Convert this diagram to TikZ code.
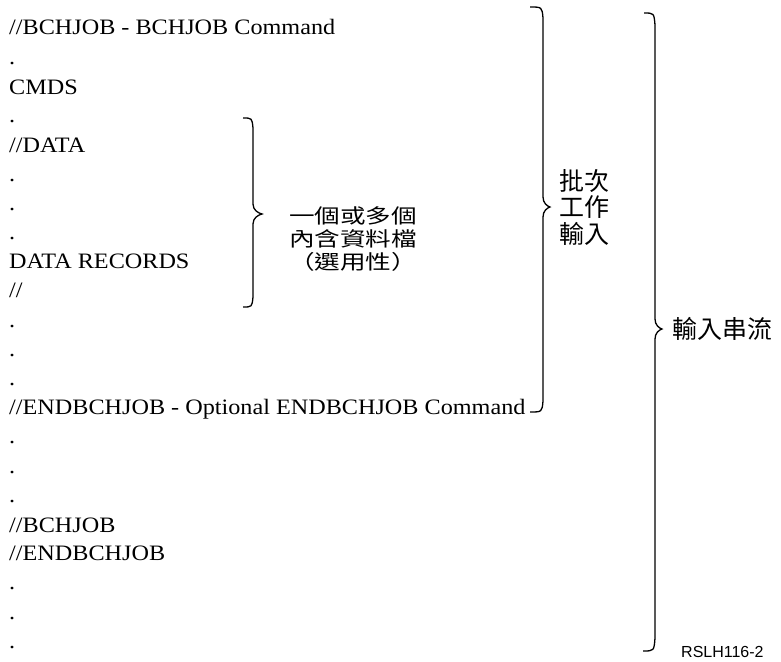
\documentclass[tikz,border=0pt]{standalone}
\usepackage{fontspec}
\usepackage{tikz}
\setmainfont{Liberation Serif}[FakeStretch=1.1]
\newfontfamily\cjkwide{Noto Sans CJK TC}[FakeStretch=1.28]
\newfontfamily\cjk{Noto Sans CJK TC}
\newfontfamily\tagfont{Liberation Sans}
\usetikzlibrary{positioning}

\tikzset{
  listline/.style={anchor=base west, inner sep=0pt, font=\fontsize{22}{24}\selectfont},
  bracket/.style={line width=1.3pt},
  cjklabel/.style={inner sep=0pt, align=center, font=\cjk\fontsize{25}{26.5}\selectfont},
}

\begin{document}
\begin{tikzpicture}[x=1pt, y=-1pt]
        \useasboundingbox (0,0) rectangle (781,661);

        % job stream lines
        \node[listline] (l0)  at (9,35)    {//BCHJOB - BCHJOB Command};
        \node[listline] (l2)  at (9,94)    {CMDS};
        \node[listline] (l4)  at (9,152.5) {//DATA};
        \node[listline] (l8)  at (9,268.6) {DATA RECORDS};
        \node[listline] (l9)  at (9,297.8) {//};
        \node[listline] (l13) at (9,414.6) {//ENDBCHJOB - Optional ENDBCHJOB Command};
        \node[listline] (l17) at (9,532.5) {//BCHJOB};
        \node[listline] (l18) at (9,560.6) {//ENDBCHJOB};
        \foreach \i in {1,3,5,6,7,10,11,12,14,15,16,19,20,21}
          \node[listline] (l\i) at (9,35+29.2*\i) {.};

        % inline data brace
        \coordinate (datatip) at (262,214);
        \draw[bracket] (243,118) .. controls (252,118) .. (253,128) -- (253,204)
          .. controls (253,210) and (258,213) .. (datatip)
          .. controls (258,215) and (253,218) .. (253,224) -- (253,297)
          .. controls (252,307) .. (243,307);
        \node[cjklabel, font=\cjkwide\fontsize{20}{23}\selectfont] (datalabel) at (353,239)
          {一個或多個\\內含資料檔\\（選用性）};

        % batch job brace
        \coordinate (jobtip) at (550,207);
        \draw[bracket] (530,7) .. controls (542,7) .. (543,18) -- (543,197)
          .. controls (543,203) and (547,206) .. (jobtip)
          .. controls (547,208) and (543,211) .. (543,217) -- (543,401)
          .. controls (542,412) .. (530,412);
        \node[cjklabel, right=9pt of jobtip] (joblabel) {批次\\工作\\輸入};

        % input stream brace
        \coordinate (streamtip) at (662,329);
        \draw[bracket] (644,13) .. controls (654,13) .. (655,25) -- (655,319)
          .. controls (655,325) and (659,328) .. (streamtip)
          .. controls (659,330) and (655,333) .. (655,339) -- (655,638)
          .. controls (654,651) .. (643,651);
        \node[cjklabel, right=10pt of streamtip] (streamlabel) {輸入串流};

        \node[anchor=base west, inner sep=0pt, font=\tagfont\fontsize{16}{16}\selectfont] (figid) at (681,657) {RSLH116-2};
\end{tikzpicture}
\end{document}
